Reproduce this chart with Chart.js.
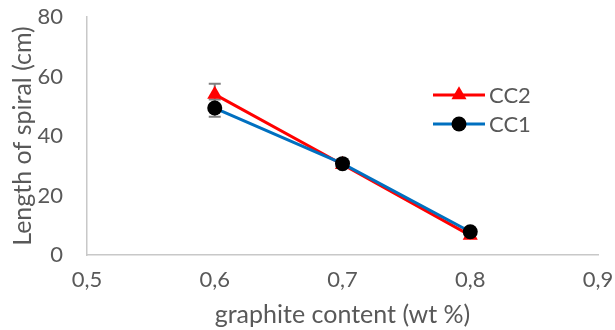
<!DOCTYPE html>
<html>
<head>
<meta charset="utf-8">
<script src="https://cdn.jsdelivr.net/npm/chart.js@4.4.1/dist/chart.umd.min.js"></script>
<style>
  html, body { margin: 0; padding: 0; background: #fff; }
  #wrap { width: 615px; height: 330px; position: relative; }
</style>
</head>
<body>
<div id="wrap"><canvas id="chart"></canvas></div>
<script>
// graphite content (wt %)
const xValues = [0.6, 0.7, 0.8];
const xTicks = [0.5, 0.6, 0.7, 0.8, 0.9];
const yTicks = [0, 20, 40, 60, 80];

// spiral length (cm) and error bars
const cc1 = [49.4, 30.7, 7.8];
const cc1Err = [2.9, 0.9, 0.8];
const cc2 = [54.0, 30.4, 6.6];
const cc2Err = [3.6, 0.9, 0.8];

const textColor = '#595959';
const fontFamily = 'Lato, "Open Sans", sans-serif';

// error bars, drawn under the markers
const errorBars = {
    id: 'errorBars',
    beforeDatasetsDraw(chart) {
        const { ctx, scales: { x, y } } = chart;
        ctx.save();
        ctx.strokeStyle = '#808080';
        ctx.lineWidth = 2;
        chart.data.datasets.forEach(ds => {
            ds.data.forEach((p, i) => {
                const px = x.getPixelForValue(p.x);
                const top = y.getPixelForValue(p.y + ds.err[i]);
                const bot = y.getPixelForValue(p.y - ds.err[i]);
                ctx.beginPath();
                ctx.moveTo(px, top); ctx.lineTo(px, bot);
                ctx.moveTo(px - 6, top); ctx.lineTo(px + 6, top);
                ctx.moveTo(px - 6, bot); ctx.lineTo(px + 6, bot);
                ctx.stroke();
            });
        });
        ctx.restore();
    }
};

function drawMarker(ctx, style, r, x, y) {
    if (style === 'triangle') {
        let rad = 0;
        ctx.moveTo(x + Math.sin(rad) * r, y - Math.cos(rad) * r);
        rad += 2 * Math.PI / 3;
        ctx.lineTo(x + Math.sin(rad) * r, y - Math.cos(rad) * r);
        rad += 2 * Math.PI / 3;
        ctx.lineTo(x + Math.sin(rad) * r, y - Math.cos(rad) * r);
        ctx.closePath();
    } else {
        ctx.arc(x, y, r, 0, Math.PI * 2);
    }
}

// legend inside the plot, line through marker like Excel
const plotLegend = {
    id: 'plotLegend',
    afterDraw(chart) {
        const { ctx } = chart;
        const items = [chart.data.datasets[1], chart.data.datasets[0]];
        ctx.save();
        items.forEach((ds, i) => {
            const cy = 95 + i * 29;
            ctx.strokeStyle = ds.borderColor;
            ctx.lineWidth = 3;
            ctx.beginPath();
            ctx.moveTo(433, cy); ctx.lineTo(485, cy);
            ctx.stroke();
            ctx.fillStyle = ds.pointBackgroundColor;
            ctx.beginPath();
            drawMarker(ctx, ds.pointStyle, ds.pointRadius, 459, cy);
            ctx.fill();
            ctx.fillStyle = textColor;
            ctx.font = '22px ' + fontFamily;
            ctx.textBaseline = 'middle';
            ctx.fillText(ds.label, 489, cy + 1);
        });
        ctx.restore();
    }
};

const toPoints = (ys) => xValues.map((v, i) => ({ x: v, y: ys[i] }));

new Chart(document.getElementById('chart'), {
    type: 'line',
    data: {
        datasets: [
            {
                label: 'CC1', data: toPoints(cc1), err: cc1Err,
                borderColor: '#0070c0', borderWidth: 3,
                pointStyle: 'circle', pointRadius: 7.5,
                pointBackgroundColor: '#000', pointBorderColor: '#000', pointBorderWidth: 0
            },
            {
                label: 'CC2', data: toPoints(cc2), err: cc2Err,
                borderColor: '#ff0000', borderWidth: 3,
                pointStyle: 'triangle', pointRadius: 8.7,
                pointBackgroundColor: '#ff0000', pointBorderColor: '#ff0000', pointBorderWidth: 0
            }
        ]
    },
    options: {
        responsive: true,
        maintainAspectRatio: false,
        animation: false,
        layout: { padding: { top: 17, right: 17, left: 0, bottom: 0 } },
        plugins: { legend: { display: false }, tooltip: { enabled: false } },
        scales: {
            x: {
                type: 'linear', min: 0.5, max: 0.9,
                afterBuildTicks: s => { s.ticks = xTicks.map(v => ({ value: v })); },
                afterFit: s => { s.height = 75; s.paddingLeft = 0; s.paddingRight = 0; },
                grid: { display: false, drawTicks: false },
                border: { display: true, color: '#c8c8c8', width: 1.5 },
                ticks: {
                    color: textColor, padding: 12, font: { family: fontFamily, size: 22 },
                    callback: v => v.toFixed(1).replace('.', ',')
                },
                title: {
                    display: true, text: 'graphite content (wt %)', color: textColor,
                    font: { family: fontFamily, size: 25 }, padding: { top: 0, bottom: 0 }
                }
            },
            y: {
                min: 0, max: 80,
                afterBuildTicks: s => { s.ticks = yTicks.map(v => ({ value: v })); },
                afterFit: s => { s.width = 87; s.paddingTop = 0; s.paddingBottom = 0; },
                grid: { display: false, drawTicks: false },
                border: { display: true, color: '#c8c8c8', width: 1.5 },
                ticks: { color: textColor, padding: 24, font: { family: fontFamily, size: 22 } },
                title: {
                    display: true, text: 'Length of spiral (cm)', color: textColor,
                    font: { family: fontFamily, size: 25 }, padding: { top: 8, bottom: 0 }
                }
            }
        }
    },
    plugins: [errorBars, plotLegend]
});
</script>
</body>
</html>
